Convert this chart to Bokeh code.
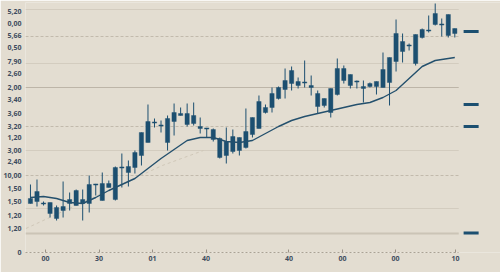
from bokeh.plotting import figure
from bokeh.models import FixedTicker
from bokeh.embed import file_html
from bokeh.resources import INLINE

# ---- data ----
sessions = list(range(66))
high = [34, 36.5, 25.5, 25, 23.5, 35.5, 30, 31.5, 31.5, 38.5,
        34.3, 40, 36, 43, 49.5, 46, 51, 60, 74, 67,
        66, 68.5, 74.5, 72.5, 74.5, 75, 67.5, 62.3, 62, 57.5,
        62.5, 61.5, 57.5, 72, 67.5, 78.5, 74, 82.5, 83, 92,
        93, 87.5, 96, 88.5, 81, 77, 82, 97, 93.5, 89,
        86, 86, 85, 85.5, 100, 97.5, 116.5, 109.5, 104.5, 109,
        112, 118.5, 124.5, 117, 119, 112]
open_ = [24.5, 25.5, 24.8, 25, 22.5, 21, 24.5, 23.5, 26.5, 24.5,
         33.7, 26, 32.5, 26.5, 42.8, 40, 42.5, 48.5, 55, 65.3,
         63.8, 67, 65.5, 69.5, 69.5, 68.5, 63, 62.3, 61.5, 57,
         55.5, 50.5, 57.5, 52.5, 59, 62, 72.5, 72.5, 77, 81.5,
         84.5, 85.5, 85.3, 82.5, 79.5, 77, 70, 79, 92, 89,
         85.8, 83, 83, 83, 82.5, 85, 95.5, 105.5, 103.8, 94.5,
         107.5, 110.7, 114, 114.3, 108.5, 112]
close = [27, 30.5, 24.2, 19.5, 17, 23, 26.5, 31, 24.5, 34,
         34.3, 34.5, 34.5, 42.5, 42.2, 43, 50, 60, 65.5, 64.7,
         63.2, 55, 70, 68.5, 64, 64.5, 62, 61.7, 56.5, 47.5,
         48.5, 58, 51, 60.5, 67.5, 75.5, 70, 79.5, 82.5, 86,
         91, 83.5, 84.7, 83.5, 73, 73.5, 82, 92, 86, 83.5,
         85.2, 82, 84.5, 85.5, 91.5, 97.5, 109.5, 100.5, 103.2, 109,
         111.5, 111.3, 119.5, 113.7, 119, 109.5]
low = [24.5, 23, 23.5, 17.5, 16, 17.5, 21, 23.5, 16, 20,
       28.5, 26, 32.5, 26, 32.5, 33, 39.5, 43.5, 55, 62.5,
       60, 51, 58.5, 68.5, 63, 63.5, 59.5, 57.5, 55.5, 47,
       44.5, 49.5, 48.5, 52, 57.5, 62, 69.5, 70, 76.5, 77,
       81, 82, 82.5, 78.5, 69.5, 72.5, 67.5, 78.5, 84.5, 82,
       82, 75, 82.5, 79, 82.5, 73.5, 90.5, 95, 101, 93.5,
       107, 110, 113.5, 108, 107.5, 107.5]

ma_x = [0, 2, 4, 6, 8, 10, 12, 14, 16, 18, 20, 22, 24, 26, 28, 30, 32,
        34, 36, 38, 40, 42, 44, 46, 48, 50, 52, 54, 56, 58, 60, 62, 64, 65]
ma_y = [27.5, 28, 27, 25, 24.5, 27.5, 31, 34, 37, 42, 47, 51.5, 56, 57.5,
        57.5, 55.5, 55, 56, 59.5, 63, 66, 68, 69.5, 71, 72.5, 74, 75, 77.5,
        81, 87, 93, 96, 97, 97.5]

trend_x = [-0.7, 20.2, 26.5]
trend_y = [12, 43.5, 51]

y_tick_vals = [120.5, 114.5, 108.5, 102.5, 95.5, 89.5, 82.5, 76.5, 69.5, 63,
               57.5, 51, 45.5, 38.5, 32, 25.5, 18.5, 12, 0]
y_tick_labels = ["5,20", "0,00", "5,66", "0,50", "7,90", "2,60", "2,00", "3,40",
                 "3,60", "3,20", "1,20", "3,00", "2,40", "10,00", "1,50", "1,50",
                 "1,20", "1,20", "0"]

x_tick_vals = [2.3, 10.5, 18.7, 26.9, 39.6, 47.8, 55.9, 65.1]
x_tick_labels = ["00", "30", "01", "40", "40", "00", "00", "10"]

grid_faint = [121.5, 94.5, 51, 22]
grid_dashed = [108, 63, 38.5]
grid_mid = [82.5]
grid_base = [9.5]

tag_levels = [110.5, 74, 63, 9.75]

# ---- styling ----
BG = "#e3ddd1"
INK = "#1c4f70"
LABEL = "#3e4c5e"
FONT = "Open Sans"

p = figure(width=500, height=272, x_range=(-0.76, 72.0), y_range=(0, 125),
           output_backend="svg", toolbar_location=None,
           min_border_left=22, min_border_right=0, min_border_top=2, min_border_bottom=20,
           background_fill_color=BG, border_fill_color=BG, outline_line_color=None)
p.xgrid.visible = False
p.ygrid.visible = False

GX0, GX1 = -0.76, 65.6

def hlines(levels, **kw):
    n = len(levels)
    p.segment(x0=[GX0] * n, x1=[GX1] * n, y0=levels, y1=levels, **kw)

hlines(grid_faint, line_color="#d3ccbf", line_width=1)
hlines(grid_dashed, line_color="#c2baac", line_width=1, line_dash="3 2")
hlines(grid_mid, line_color="#bdb5a8", line_width=1.2)
hlines(grid_base, line_color="#cbc4b6", line_width=2)

p.line(trend_x, trend_y, line_color="#cfc7b8", line_width=1, line_dash="3 3")

p.segment(x0=sessions, x1=sessions, y0=low, y1=high, line_color=INK, line_width=1)
tops = [max(o, c) for o, c in zip(open_, close)]
bots = [min(o, c) for o, c in zip(open_, close)]
p.vbar(x=sessions, width=0.66, top=tops, bottom=bots, fill_color=INK, line_color=INK, line_width=0.4)

p.line(ma_x, ma_y, line_color="#24506d", line_width=1.4)

p.rect(x=[67.5] * len(tag_levels), y=tag_levels, width=2.3, height=1.6,
       fill_color=INK, line_color=None)

# axes
xa = p.xaxis[0]
xa.ticker = FixedTicker(ticks=x_tick_vals)
xa.major_label_overrides = {v: l for v, l in zip(x_tick_vals, x_tick_labels)}
xa.bounds = (-1.07, 65.6)
xa.axis_line_color = "#aaa294"
xa.axis_line_dash = "2 2"
xa.major_tick_in = 3
xa.major_tick_out = 0
xa.major_tick_line_color = "#9a9286"
xa.minor_tick_line_color = None
xa.major_label_standoff = 3
xa.major_label_text_font = FONT
xa.major_label_text_font_size = "7px"
xa.major_label_text_font_style = "bold"
xa.major_label_text_color = LABEL

ya = p.yaxis[0]
ya.ticker = FixedTicker(ticks=y_tick_vals)
ya.major_label_overrides = {v: l for v, l in zip(y_tick_vals, y_tick_labels)}
ya.axis_line_color = None
ya.major_tick_line_color = None
ya.major_tick_in = 0
ya.major_tick_out = 0
ya.minor_tick_line_color = None
ya.major_label_standoff = 4
ya.major_label_text_font = FONT
ya.major_label_text_font_size = "7px"
ya.major_label_text_font_style = "bold"
ya.major_label_text_color = LABEL

open("out.html", "w").write(file_html(p, INLINE))
